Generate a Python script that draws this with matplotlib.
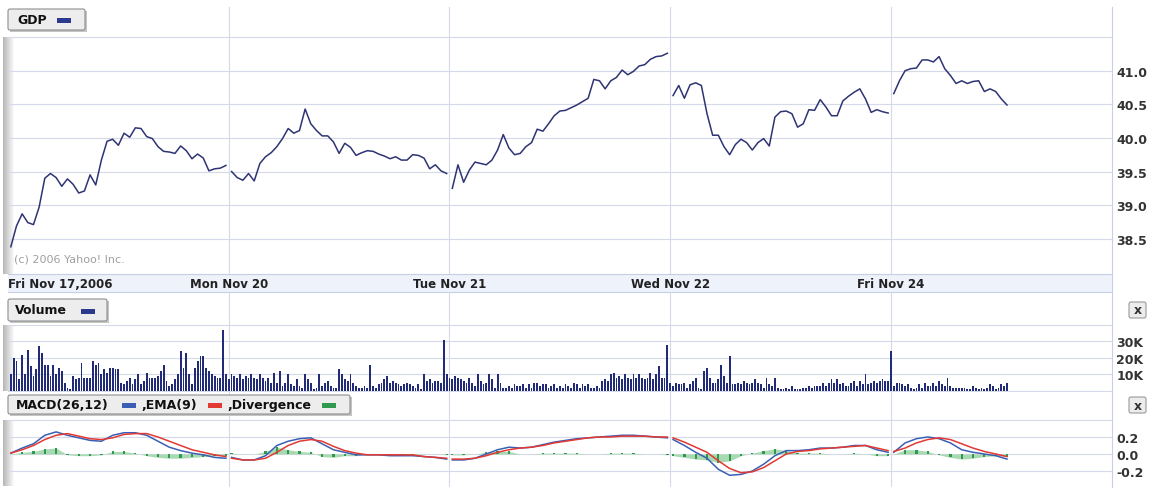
import matplotlib
matplotlib.use("Agg")
import matplotlib.pyplot as plt
import numpy as np
from matplotlib.patches import Rectangle, FancyBboxPatch

W, H = 1151, 489
BARS = 78  # 5-minute bars in a full session

day_labels = ["Fri Nov 17,2006", "Mon Nov 20", "Tue Nov 21", "Wed Nov 22", "Fri Nov 24"]

# price, one value every 10 minutes
price_nov17 = [38.38, 38.69, 38.87, 38.74, 38.71, 38.97, 39.40, 39.47, 39.41, 39.28,
               39.39, 39.31, 39.18, 39.21, 39.45, 39.30, 39.67, 39.95, 39.98, 39.89,
               40.07, 40.01, 40.15, 40.14, 40.02, 39.99, 39.87, 39.80, 39.79, 39.77,
               39.88, 39.81, 39.69, 39.76, 39.70, 39.51, 39.54, 39.55, 39.59]
price_nov20 = [39.50, 39.41, 39.37, 39.47, 39.36, 39.62, 39.72, 39.78, 39.87, 39.99,
               40.14, 40.07, 40.11, 40.43, 40.21, 40.11, 40.03, 40.03, 39.94, 39.77,
               39.92, 39.86, 39.74, 39.78, 39.81, 39.80, 39.76, 39.73, 39.69, 39.72,
               39.67, 39.67, 39.75, 39.74, 39.70, 39.54, 39.60, 39.51, 39.47]
price_nov21 = [39.25, 39.60, 39.34, 39.52, 39.64, 39.62, 39.60, 39.67, 39.82, 40.05,
               39.85, 39.75, 39.77, 39.87, 39.93, 40.13, 40.10, 40.21, 40.33, 40.40,
               40.41, 40.45, 40.49, 40.54, 40.59, 40.87, 40.85, 40.73, 40.85, 40.90,
               41.01, 40.94, 40.99, 41.07, 41.09, 41.17, 41.21, 41.22, 41.26]
price_nov22 = [40.63, 40.78, 40.59, 40.79, 40.82, 40.78, 40.36, 40.04, 40.04, 39.87,
               39.75, 39.90, 39.98, 39.93, 39.82, 39.93, 39.99, 39.88, 40.31, 40.39,
               40.40, 40.36, 40.16, 40.21, 40.42, 40.41, 40.57, 40.46, 40.33, 40.33,
               40.55, 40.62, 40.68, 40.73, 40.58, 40.38, 40.42, 40.39, 40.37]
price_nov24 = [40.66, 40.85, 41.00, 41.03, 41.04, 41.16, 41.16, 41.13, 41.21, 41.03,
               40.93, 40.81, 40.85, 40.81, 40.84, 40.85, 40.69, 40.73, 40.69, 40.58,
               40.49]

# volume in thousands, one bar every 5 minutes
vol_nov17 = [10, 20, 18, 7, 22, 10, 25, 15, 9, 13, 27, 23, 16, 16, 9, 16, 10, 14, 12, 5,
             2, 1, 9, 7, 8, 17, 8, 8, 8, 18, 16, 17, 10, 13, 11, 14, 14, 13, 13, 5,
             4, 6, 8, 4, 7, 10, 4, 6, 11, 8, 8, 8, 9, 12, 16, 6, 3, 4, 7, 10,
             24, 14, 23, 10, 4, 14, 18, 21, 21, 14, 12, 10, 9, 8, 8, 37, 10, 7]
vol_nov20 = [10, 9, 8, 10, 7, 9, 8, 10, 8, 7, 10, 8, 6, 8, 5, 11, 5, 12, 3, 5,
             10, 4, 3, 7, 3, 2, 10, 7, 5, 1, 2, 10, 3, 5, 6, 3, 2, 2, 13, 10,
             7, 6, 10, 5, 3, 2, 2, 3, 2, 16, 3, 2, 4, 5, 7, 9, 5, 6, 5, 4,
             3, 4, 5, 4, 3, 2, 4, 1, 10, 6, 7, 5, 6, 6, 5, 31, 10, 8]
vol_nov21 = [7, 9, 8, 7, 6, 5, 8, 5, 3, 10, 6, 4, 5, 10, 7, 2, 10, 5, 2, 2,
             3, 2, 4, 3, 3, 4, 2, 4, 2, 5, 5, 3, 4, 4, 2, 3, 4, 2, 3, 2,
             4, 3, 2, 5, 4, 2, 4, 3, 4, 2, 2, 3, 2, 6, 7, 6, 10, 11, 8, 9,
             7, 10, 8, 7, 10, 8, 10, 8, 7, 8, 11, 7, 10, 15, 8, 8, 28, 5]
vol_nov22 = [3, 5, 4, 4, 5, 2, 4, 6, 8, 2, 1, 12, 14, 8, 5, 5, 7, 16, 9, 5,
             21, 4, 4, 5, 4, 6, 5, 4, 5, 7, 5, 4, 2, 8, 4, 3, 8, 2, 1, 1,
             2, 1, 3, 1, 1, 1, 2, 2, 3, 2, 3, 3, 3, 5, 3, 5, 7, 5, 7, 4,
             5, 3, 3, 5, 6, 3, 6, 4, 10, 4, 5, 6, 5, 6, 7, 6, 6, 24]
vol_nov24 = [3, 5, 5, 4, 3, 4, 2, 1, 2, 4, 2, 5, 3, 3, 5, 3, 6, 4, 3, 8,
             3, 2, 2, 2, 2, 2, 1, 1, 3, 2, 1, 2, 1, 2, 4, 3, 1, 2, 4, 3, 5]

# MACD(26,12), EMA(9) and divergence, one value every 20 minutes
macd_nov17 = [0.01, 0.07, 0.12, 0.22, 0.26, 0.22, 0.19, 0.16, 0.15, 0.22,
              0.25, 0.25, 0.22, 0.15, 0.08, 0.04, 0.01, -0.01, -0.04, -0.05]
ema_nov17 = [0.01, 0.05, 0.10, 0.17, 0.22, 0.24, 0.21, 0.18, 0.17, 0.19,
             0.23, 0.24, 0.24, 0.20, 0.15, 0.10, 0.05, 0.02, -0.01, -0.03]
div_nov17 = [0.00, 0.02, 0.03, 0.06, 0.07, -0.01, -0.02, -0.02, -0.01, 0.03,
             0.03, 0.01, -0.02, -0.04, -0.05, -0.05, -0.04, -0.03, -0.02, -0.02]
macd_nov20 = [-0.04, -0.07, -0.07, -0.02, 0.10, 0.15, 0.18, 0.19, 0.12, 0.05,
              0.02, -0.01, -0.01, -0.01, -0.02, -0.02, -0.02, -0.03, -0.04, -0.06]
ema_nov20 = [-0.05, -0.07, -0.07, -0.05, 0.02, 0.10, 0.15, 0.17, 0.15, 0.09,
             0.04, 0.01, -0.01, -0.01, -0.01, -0.01, -0.01, -0.03, -0.04, -0.05]
div_nov20 = [0.01, 0.00, 0.00, 0.03, 0.08, 0.05, 0.03, 0.02, -0.03, -0.04,
             -0.02, -0.02, 0.00, 0.00, -0.01, -0.01, -0.01, 0.00, 0.00, -0.01]
macd_nov21 = [-0.07, -0.07, -0.05, 0.00, 0.05, 0.08, 0.07, 0.08, 0.11, 0.14,
              0.16, 0.18, 0.19, 0.20, 0.21, 0.22, 0.22, 0.21, 0.20, 0.19]
ema_nov21 = [-0.06, -0.06, -0.05, -0.02, 0.02, 0.05, 0.07, 0.08, 0.10, 0.13,
             0.15, 0.17, 0.19, 0.20, 0.20, 0.21, 0.21, 0.21, 0.20, 0.20]
div_nov21 = [-0.01, -0.01, 0.00, 0.02, 0.03, 0.03, 0.00, 0.00, 0.01, 0.01,
             0.01, 0.01, 0.00, 0.00, 0.01, 0.01, 0.01, 0.00, 0.00, -0.01]
macd_nov22 = [0.17, 0.10, 0.02, -0.05, -0.18, -0.25, -0.24, -0.20, -0.12, -0.02,
              0.04, 0.04, 0.05, 0.07, 0.07, 0.08, 0.10, 0.10, 0.05, 0.02]
ema_nov22 = [0.19, 0.14, 0.08, 0.02, -0.08, -0.17, -0.22, -0.21, -0.16, -0.08,
             0.00, 0.03, 0.04, 0.06, 0.07, 0.08, 0.09, 0.10, 0.07, 0.04]
div_nov22 = [-0.02, -0.04, -0.06, -0.07, -0.10, -0.08, -0.02, 0.01, 0.04, 0.06,
             0.04, 0.01, 0.01, 0.01, 0.00, 0.00, 0.01, 0.00, -0.02, -0.02]
macd_nov24 = [0.02, 0.13, 0.18, 0.20, 0.18, 0.13, 0.05, 0.02, 0.00, -0.02, -0.06]
ema_nov24 = [0.03, 0.07, 0.13, 0.17, 0.19, 0.17, 0.12, 0.07, 0.03, 0.00, -0.03]
div_nov24 = [0.00, 0.05, 0.05, 0.03, -0.01, -0.04, -0.06, -0.05, -0.03, -0.02, -0.03]

price_days = [price_nov17, price_nov20, price_nov21, price_nov22, price_nov24]
vol_days = [vol_nov17, vol_nov20, vol_nov21, vol_nov22, vol_nov24]
macd_days = [macd_nov17, macd_nov20, macd_nov21, macd_nov22, macd_nov24]
ema_days = [ema_nov17, ema_nov20, ema_nov21, ema_nov22, ema_nov24]
div_days = [div_nov17, div_nov20, div_nov21, div_nov22, div_nov24]

price_ticks = [38.5, 39.0, 39.5, 40.0, 40.5, 41.0]
vol_ticks = [10, 20, 30]
vol_tick_labels = ["10K", "20K", "30K"]
macd_ticks = [-0.2, 0.0, 0.2]
macd_tick_labels = ["-0.2", "0.0", "0.2"]

GRID = "#d4daea"
NAVY = "#2e3473"
TXT = "#333333"
PX_PER_BAR = 2.83
X_MAX = (1112 - 8) / PX_PER_BAR


def rect(x0, y0, x1, y1):
    return [x0 / W, 1 - y1 / H, (x1 - x0) / W, (y1 - y0) / H]


def panel(ax, grid_vals):
    ax.set_xlim(0, X_MAX)
    ax.patch.set_alpha(0)
    for s in ax.spines.values():
        s.set_visible(False)
    ax.tick_params(length=0, labelbottom=False, labelleft=False, labelright=True,
                   labelsize=9, labelcolor=TXT, pad=3)
    ax.set_xticks([])
    for lab in ax.get_yticklabels():
        lab.set_fontweight("bold")
    for v in grid_vals:
        ax.axhline(v, color=GRID, lw=0.8, zorder=0)
    for d in range(1, 5):
        ax.axvline(d * BARS, color=GRID, lw=0.8, zorder=0)


fig = plt.figure(figsize=(W / 100, H / 100), dpi=100)
fig.patch.set_facecolor("white")

# background layer in pixel units: left shading and right border
bg = fig.add_axes([0, 0, 1, 1], zorder=0)
bg.axis("off")
grad = np.linspace(0.72, 1.0, 12)[None, :] * np.ones((2, 1))
for y0, y1 in [(38, 275), (326, 392), (421, 487)]:
    bg.imshow(grad, cmap="gray", vmin=0, vmax=1, extent=(3, 15, y1, y0),
              aspect="auto")
bg.plot([1112, 1112], [8, H], color="#c8d0e2", lw=0.8)
bg.set_xlim(0, W)
bg.set_ylim(H, 0)

# price panel
ax_p = fig.add_axes(rect(8, 8, 1112, 275), zorder=1)
ax_p.set_ylim(37.975, 41.948)
ax_p.yaxis.tick_right()
ax_p.set_yticks(price_ticks)
ax_p.set_yticklabels([f"{t:.1f}" for t in price_ticks])
panel(ax_p, price_ticks + [41.5])
for d, vals in enumerate(price_days):
    x = d * BARS + 2 * np.arange(len(vals)) + 1
    ax_p.plot(x, vals, color=NAVY, lw=1.1, zorder=3)
ax_p.text(2, 38.2, "(c) 2006 Yahoo! Inc.", color="#a0a0a0", fontsize=8, va="center")

# date strip
ax_d = fig.add_axes(rect(8, 275, 1112, 293), zorder=1)
ax_d.set_xlim(0, X_MAX)
ax_d.set_ylim(0, 1)
ax_d.set_facecolor("#eef2fa")
ax_d.set_xticks([])
ax_d.set_yticks([])
for side in ["left", "right"]:
    ax_d.spines[side].set_visible(False)
for side in ["top", "bottom"]:
    ax_d.spines[side].set_color("#c6d0e4")
for d, lab in enumerate(day_labels):
    ax_d.text(d * BARS, 0.45, lab, ha="left" if d == 0 else "center", va="center",
              fontsize=8.5, fontweight="bold", color="#222222")

# volume panel
ax_v = fig.add_axes(rect(8, 293, 1112, 393), zorder=1)
ax_v.set_ylim(-0.6, 59.8)
ax_v.yaxis.tick_right()
ax_v.set_yticks(vol_ticks)
ax_v.set_yticklabels(vol_tick_labels)
panel(ax_v, [0, 10, 20, 30, 40])
for d, vals in enumerate(vol_days):
    x = d * BARS + np.arange(len(vals)) + 1
    ax_v.bar(x, vals, width=0.65, color="#222b78", lw=0, zorder=3)

# MACD panel
ax_m = fig.add_axes(rect(8, 393, 1112, 488), zorder=1)
ax_m.set_ylim(-0.388, 0.729)
ax_m.yaxis.tick_right()
ax_m.set_yticks(macd_ticks)
ax_m.set_yticklabels(macd_tick_labels)
panel(ax_m, [-0.2, 0.0, 0.2, 0.4])
for d in range(5):
    x = d * BARS + 4 * np.arange(len(macd_days[d])) + 1
    ax_m.fill_between(x, 0, div_days[d], color="#a9d9b2", lw=0, zorder=2)
    ax_m.bar(x, div_days[d], width=0.8, color="#2f9a4e", lw=0, zorder=2)
    ax_m.plot(x, macd_days[d], color="#3b5fb5", lw=1.1, zorder=3)
    ax_m.plot(x, ema_days[d], color="#e23a33", lw=1.1, zorder=4)

# overlay in pixel units for the label boxes and buttons
ov = fig.add_axes([0, 0, 1, 1], zorder=10)
ov.set_xlim(0, W)
ov.set_ylim(H, 0)
ov.axis("off")
ov.patch.set_alpha(0)


def label_box(x0, y0, x1, y1):
    ov.add_patch(Rectangle((x0 + 2, y0 + 2), x1 - x0, y1 - y0, fc="#c4c4c4", ec="none", zorder=2))
    ov.add_patch(FancyBboxPatch((x0, y0), x1 - x0, y1 - y0,
                                boxstyle="round,pad=0,rounding_size=2",
                                fc="#ededed", ec="#8e8e8e", lw=0.8, zorder=3))


def swatch(x, y, color):
    ov.add_patch(Rectangle((x, y - 2.5), 14, 5, fc=color, ec="none", zorder=4))


def btext(x, y, s):
    ov.text(x, y, s, fontsize=9, fontweight="bold", va="center", ha="left",
            color="#111111", zorder=5)


label_box(8, 10, 85, 31)
btext(17, 20.5, "GDP")
swatch(57, 21.5, "#2b3a8c")

label_box(8, 300, 107, 322)
btext(15, 311, "Volume")
swatch(81, 312, "#2b3a8c")

label_box(8, 396, 350, 415)
btext(16, 405.5, "MACD(26,12)")
swatch(122, 406.5, "#3b5fb5")
btext(141, 405.5, ",EMA(9)")
swatch(208, 406.5, "#e23a33")
btext(227, 405.5, ",Divergence")
swatch(322, 406.5, "#2f9a4e")

for y0 in [303, 398]:
    ov.add_patch(FancyBboxPatch((1129, y0), 17, 16, boxstyle="round,pad=0,rounding_size=2",
                                fc="#ececec", ec="#9a9a9a", lw=0.8, zorder=3))
    ov.text(1137.5, y0 + 8, "x", fontsize=9, fontweight="bold", ha="center", va="center",
            color="#333333", zorder=5)

fig.savefig("out.png", dpi=100, facecolor="white")
